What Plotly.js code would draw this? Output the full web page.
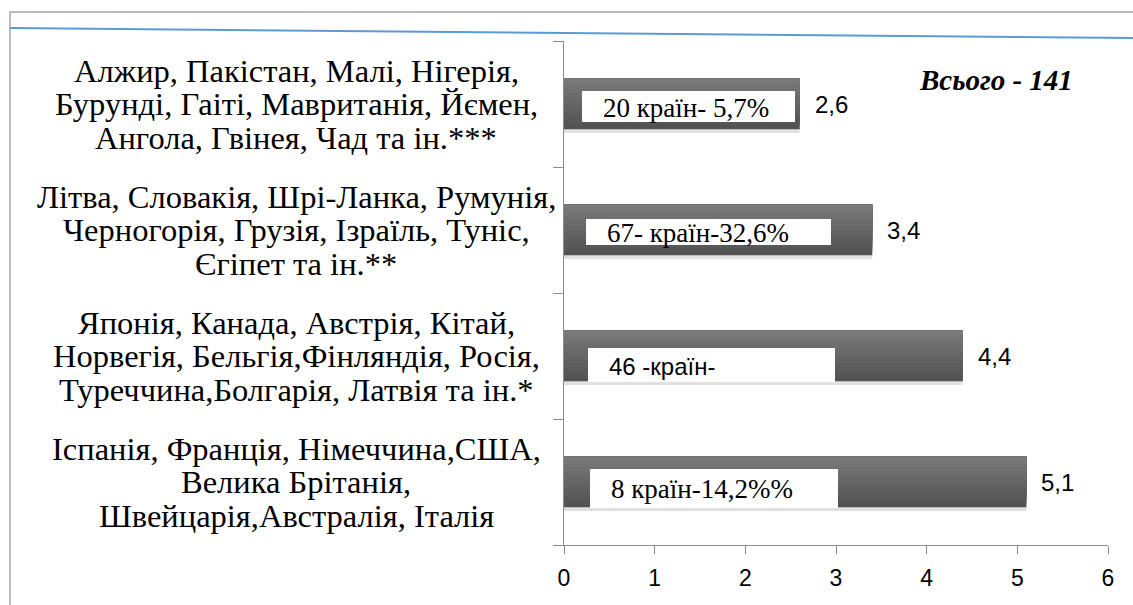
<!DOCTYPE html>
<html>
<head>
<meta charset="utf-8">
<script src="https://cdn.plot.ly/plotly-3.0.1.min.js"></script>
</head>
<body style="margin:0;background:#fff">
<div id="chart" style="width:1133px;height:605px"></div>
<script>
// ---- data ----
var categories = ["Іспанія", "Японія", "Літва", "Алжир"];
var values = [5.1, 4.4, 3.4, 2.6];
var categoryLines = [
  ["Іспанія, Франція, Німеччина,США,", "Велика Брітанія,", "Швейцарія,Австралія, Італія"],
  ["Японія, Канада, Австрія, Кітай,", "Норвегія, Бельгія,Фінляндія, Росія,", "Туреччина,Болгарія, Латвія та ін.*"],
  ["Літва, Словакія, Шрі-Ланка, Румунія,", "Черногорія, Грузія, Ізраїль, Туніс,", "Єгіпет та ін.**"],
  ["Алжир, Пакістан, Малі, Нігерія,", "Бурунді, Гаіті, Мавританія, Йємен,", "Ангола, Гвінея, Чад та ін.***"]
];
var boxTexts = ["8 країн-14,2%%", "46 -країн-", "67- країн-32,6%", "20 країн- 5,7%"];
var totalText = "Всього - 141";
var xTicks = [0, 1, 2, 3, 4, 5, 6];

// ---- styling ----
var SERIF_FONT = "Liberation Serif";
var SANS_FONT = "Liberation Sans";
var bandColors = ["#525252", "#555555", "#585858", "#5b5b5b", "#5e5e5e", "#616161", "#646464",
                  "#676767", "#6a6a6a", "#6d6d6d", "#707070", "#737373", "#767676", "#7a7a7a"];
var barW = 0.4;
var traces = [];
traces.push({
  type: "bar", orientation: "h", y: categories, x: values,
  width: 0.04, offset: -barW / 2 - 0.03,
  marker: {color: "rgba(0,0,0,0.12)", line: {width: 0}},
  hoverinfo: "skip", showlegend: false
});
var nb = bandColors.length;
var bw = barW / nb;
bandColors.forEach(function (c, i) {
  var h = barW - i * bw;
  traces.push({
    type: "bar", orientation: "h", y: categories, x: values,
    width: h, offset: barW / 2 - h,
    marker: {color: c, line: {width: 0}},
    hoverinfo: "skip", showlegend: false
  });
});

var annotations = [];
categories.forEach(function (c, i) {
  annotations.push({
    x: values[i], y: c, xref: "x", yref: "y",
    text: values[i].toFixed(1).replace(".", ","),
    showarrow: false, xanchor: "left", xshift: 13,
    font: {family: SANS_FONT, size: 24, color: "#000"}
  });
});
var boxCfg = [
  {left: 0.29, w: 248, h: 39, ys: -6, font: SERIF_FONT, size: 27},
  {left: 0.265, w: 247, h: 34, ys: -9, font: SANS_FONT, size: 24},
  {left: 0.243, w: 245, h: 26, ys: -2, font: SERIF_FONT, size: 27},
  {left: 0.2, w: 213, h: 31, ys: -2.5, font: SERIF_FONT, size: 27}
];
categories.forEach(function (c, i) {
  var b = boxCfg[i];
  annotations.push({
    x: b.left, y: c, xref: "x", yref: "y", text: " ",
    showarrow: false, xanchor: "left", yanchor: "middle",
    width: b.w, height: b.h, bgcolor: "#ffffff", borderpad: 0, borderwidth: 0,
    yshift: b.ys, font: {size: 10}
  });
  annotations.push({
    x: b.left, y: c, xref: "x", yref: "y", text: boxTexts[i],
    showarrow: false, xanchor: "left", yanchor: "middle",
    xshift: 19, yshift: b.ys - 1,
    font: {family: b.font, size: b.size, color: "#000"}
  });
});
var lineGap = 33.5;
categories.forEach(function (c, i) {
  var lines = categoryLines[i];
  lines.forEach(function (t, j) {
    annotations.push({
      x: -0.492, y: c, xref: "paper", yref: "y", text: t,
      showarrow: false, xanchor: "center", yanchor: "middle",
      yshift: ((lines.length - 1) / 2 - j) * lineGap,
      font: {family: SERIF_FONT, size: 32.5, color: "#000"}
    });
  });
});
annotations.push({
  x: 0.794, y: 0.922, xref: "paper", yref: "paper", text: "<b><i>" + totalText + "</i></b>",
  showarrow: false, xanchor: "center", yanchor: "middle",
  font: {family: SERIF_FONT, size: 29, color: "#000"}
});

var layout = {
  width: 1133, height: 605,
  font: {family: SERIF_FONT, color: "#000000"},
  margin: {l: 564, r: 25, t: 41, b: 60, pad: 0},
  paper_bgcolor: "#fff", plot_bgcolor: "#fff",
  barmode: "overlay",
  showlegend: false,
  xaxis: {
    range: [0, 6], tickvals: xTicks, ticktext: xTicks.map(String),
    showgrid: false, zeroline: false, showline: true, linecolor: "#8c8c8c", linewidth: 1,
    ticks: "outside", ticklen: 8, tickcolor: "#8c8c8c", ticklabelstandoff: 4,
    tickfont: {family: SANS_FONT, size: 23, color: "#000"}, fixedrange: true
  },
  yaxis: {
    type: "category", categoryorder: "array", categoryarray: categories,
    range: [-0.5, 3.5],
    showgrid: false, zeroline: false, showline: true, linecolor: "#8c8c8c", linewidth: 1,
    ticks: "outside", tickson: "boundaries", ticklen: 10, tickcolor: "#8c8c8c",
    showticklabels: false, fixedrange: true
  },
  annotations: annotations,
  shapes: [
    {type: "rect", xref: "paper", yref: "paper", x0: -1.0184, x1: 1.2, y0: -0.3, y1: 1.0575,
     line: {color: "#a6a6a6", width: 1.5}, fillcolor: "rgba(0,0,0,0)", layer: "below"},
    {type: "line", xref: "paper", yref: "paper", x0: -1.0184, y0: 1.0258, x1: 1.046, y1: 1.006,
     line: {color: "#5b9bd5", width: 2}}
  ]
};
Plotly.newPlot("chart", traces, layout, {staticPlot: true, displayModeBar: false});
</script>
</body>
</html>
